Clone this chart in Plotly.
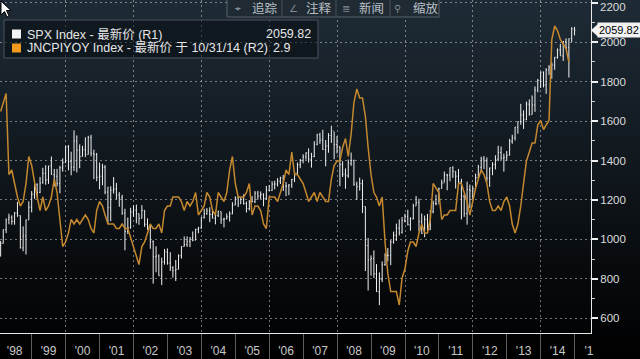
import base64
import struct
import zlib

import pandas as pd
import plotly.graph_objects as go

# ---------------- data ----------------
# SPX monthly bars Jan-1998 .. Dec-2014 (last value as of 9 Dec 2014)
spx_open = [
    970.43, 980.28, 1049.34, 1101.75, 1111.75, 1090.82, 1133.84, 1120.67, 957.28, 1017.01, 1098.67, 1163.63,
    1229.23, 1279.64, 1238.33, 1286.37, 1335.18, 1301.84, 1372.71, 1328.72, 1320.41, 1282.71, 1362.93, 1388.91,
    1469.25, 1394.46, 1366.42, 1498.58, 1452.43, 1420.60, 1454.60, 1430.83, 1517.68, 1436.51, 1429.40, 1314.95,
    1320.28, 1366.01, 1239.94, 1160.33, 1249.46, 1255.82, 1224.42, 1211.23, 1133.58, 1040.94, 1059.78, 1139.45,
    1148.08, 1130.20, 1106.73, 1147.39, 1076.92, 1067.14, 989.82, 911.62, 916.07, 815.28, 885.76, 936.31,
    879.82, 855.70, 841.15, 848.18, 916.92, 963.59, 974.50, 990.31, 1008.01, 995.97, 1050.71, 1058.20,
    1111.92, 1131.13, 1144.94, 1126.21, 1107.30, 1120.68, 1140.84, 1101.72, 1104.24, 1114.58, 1130.20, 1173.82,
    1211.92, 1181.27, 1203.60, 1180.59, 1156.85, 1191.50, 1191.33, 1234.18, 1220.33, 1228.81, 1207.01, 1249.48,
    1248.29, 1280.08, 1280.66, 1294.83, 1310.61, 1270.09, 1270.20, 1276.66, 1303.82, 1335.85, 1377.94, 1400.63,
    1418.30, 1438.24, 1406.82, 1420.86, 1482.37, 1530.62, 1503.35, 1455.27, 1473.99, 1526.75, 1549.38, 1481.14,
    1468.36, 1378.55, 1330.63, 1322.70, 1385.59, 1400.38, 1280.00, 1267.38, 1282.83, 1166.36, 968.75, 896.24,
    903.25, 825.88, 735.09, 797.87, 872.81, 919.14, 919.32, 987.48, 1020.62, 1057.08, 1036.19, 1095.63,
    1115.10, 1073.87, 1104.49, 1169.43, 1186.69, 1089.41, 1030.71, 1101.60, 1049.33, 1141.20, 1183.26, 1180.55,
    1257.64, 1286.12, 1327.22, 1325.83, 1363.61, 1345.20, 1320.64, 1292.28, 1218.89, 1131.42, 1253.30, 1246.96,
    1257.60, 1312.41, 1365.68, 1408.47, 1397.91, 1310.33, 1362.16, 1379.32, 1406.58, 1440.67, 1412.16, 1416.18,
    1426.19, 1498.11, 1514.68, 1569.19, 1597.57, 1630.74, 1606.28, 1685.73, 1632.97, 1681.55, 1756.54, 1805.81,
    1848.36, 1782.59, 1859.45, 1872.34, 1883.95, 1923.57, 1960.23, 1930.67, 2003.37, 1972.29, 2018.21, 2065.78,
]
spx_high = [
    992.65, 1050.66, 1105.65, 1130.52, 1122.0, 1138.5, 1190.58, 1121.5, 1066.1, 1100.6, 1192.97, 1244.93,
    1280.4, 1283.8, 1316.6, 1362.8, 1375.98, 1372.9, 1420.3, 1357.3, 1357.7, 1373.2, 1410.0, 1473.1,
    1478.0, 1444.6, 1552.9, 1527.2, 1481.5, 1474.6, 1517.3, 1525.2, 1530.1, 1454.8, 1438.5, 1389.1,
    1383.4, 1376.9, 1267.4, 1269.3, 1315.9, 1286.6, 1239.8, 1226.3, 1155.4, 1110.6, 1160.3, 1173.6,
    1176.6, 1130.2, 1173.9, 1147.8, 1106.6, 1070.7, 994.5, 965.0, 924.0, 907.4, 951.6, 954.3,
    935.1, 864.6, 895.9, 924.2, 965.4, 1015.3, 1015.4, 1011.0, 1040.3, 1053.8, 1063.7, 1112.6,
    1155.4, 1159.0, 1163.2, 1150.6, 1127.7, 1146.3, 1140.8, 1109.7, 1131.5, 1142.1, 1188.5, 1217.9,
    1217.8, 1212.4, 1229.1, 1191.9, 1199.6, 1219.6, 1245.2, 1245.9, 1243.1, 1233.3, 1270.6, 1275.8,
    1294.9, 1297.6, 1310.9, 1318.2, 1326.7, 1290.7, 1280.4, 1307.1, 1340.3, 1389.4, 1407.9, 1431.8,
    1441.6, 1461.6, 1438.9, 1498.0, 1535.6, 1540.6, 1555.9, 1503.9, 1538.7, 1576.1, 1545.8, 1523.6,
    1471.8, 1396.0, 1359.7, 1404.6, 1440.2, 1404.1, 1292.2, 1313.2, 1303.0, 1167.0, 1007.5, 918.9,
    943.9, 875.0, 833.0, 888.7, 930.2, 956.2, 996.7, 1039.5, 1080.2, 1101.4, 1113.7, 1130.4,
    1150.5, 1112.4, 1180.7, 1219.8, 1206.6, 1131.2, 1121.0, 1129.2, 1148.9, 1196.1, 1227.1, 1262.6,
    1302.7, 1344.1, 1332.3, 1364.6, 1370.6, 1345.2, 1356.5, 1307.4, 1229.3, 1292.7, 1277.6, 1269.4,
    1333.5, 1378.0, 1419.2, 1422.4, 1415.3, 1363.5, 1391.7, 1426.7, 1474.5, 1471.0, 1434.3, 1448.0,
    1509.9, 1530.9, 1570.3, 1597.6, 1687.2, 1654.2, 1698.8, 1709.7, 1730.0, 1775.2, 1813.6, 1849.4,
    1850.8, 1867.9, 1884.0, 1897.3, 1924.0, 1968.2, 1991.4, 2005.0, 2019.3, 2018.2, 2075.8, 2077.3,
]
spx_low = [
    912.8, 979.0, 1032.0, 1076.7, 1074.4, 1074.7, 1114.3, 954.0, 939.98, 923.3, 1098.7, 1136.9,
    1205.5, 1211.9, 1234.6, 1282.8, 1277.3, 1281.4, 1328.5, 1268.7, 1268.4, 1233.7, 1343.6, 1387.4,
    1350.1, 1325.1, 1346.6, 1339.4, 1361.1, 1420.6, 1416.9, 1430.8, 1421.1, 1305.8, 1294.9, 1254.1,
    1274.6, 1228.9, 1081.2, 1092.0, 1232.0, 1203.0, 1165.5, 1124.9, 944.8, 1026.8, 1054.3, 1114.5,
    1081.7, 1074.4, 1106.7, 1063.5, 1049.0, 952.9, 775.7, 833.4, 815.3, 768.6, 872.0, 871.8,
    840.3, 806.3, 788.9, 847.9, 902.8, 963.6, 962.1, 960.8, 990.4, 996.0, 1031.2, 1053.4,
    1105.1, 1124.4, 1087.2, 1107.2, 1076.3, 1113.3, 1078.8, 1060.7, 1101.3, 1090.2, 1127.6, 1173.4,
    1163.8, 1180.5, 1176.9, 1136.2, 1146.2, 1188.3, 1183.6, 1201.1, 1205.4, 1168.2, 1201.1, 1246.6,
    1245.7, 1253.6, 1268.4, 1280.7, 1245.3, 1219.3, 1224.5, 1261.3, 1290.9, 1327.1, 1361.0, 1385.9,
    1404.0, 1389.4, 1364.0, 1416.4, 1476.7, 1484.2, 1454.3, 1370.6, 1439.3, 1489.6, 1406.1, 1435.7,
    1270.1, 1316.8, 1257.0, 1312.3, 1373.1, 1272.0, 1200.4, 1247.5, 1133.5, 839.8, 741.0, 815.7,
    804.5, 734.5, 666.8, 783.3, 866.1, 888.9, 869.3, 978.5, 992.3, 1020.0, 1029.4, 1085.9,
    1071.6, 1044.5, 1101.4, 1170.7, 1040.8, 1028.3, 1010.9, 1039.7, 1048.2, 1131.9, 1173.0, 1186.6,
    1257.6, 1289.1, 1249.1, 1294.7, 1311.8, 1258.1, 1282.9, 1101.5, 1114.2, 1074.8, 1158.7, 1202.4,
    1258.9, 1312.4, 1340.0, 1357.4, 1292.0, 1266.7, 1325.4, 1354.7, 1396.6, 1403.3, 1343.4, 1398.1,
    1426.2, 1485.0, 1501.5, 1536.0, 1581.3, 1560.3, 1604.6, 1627.5, 1633.4, 1646.5, 1746.2, 1768.0,
    1770.5, 1737.9, 1834.4, 1814.4, 1859.8, 1916.0, 1930.7, 1904.8, 1964.0, 1820.7, 2001.0, 2034.2,
]
spx_close = [
    980.28, 1049.34, 1101.75, 1111.75, 1090.82, 1133.84, 1120.67, 957.28, 1017.01, 1098.67, 1163.63, 1229.23,
    1279.64, 1238.33, 1286.37, 1335.18, 1301.84, 1372.71, 1328.72, 1320.41, 1282.71, 1362.93, 1388.91, 1469.25,
    1394.46, 1366.42, 1498.58, 1452.43, 1420.60, 1454.60, 1430.83, 1517.68, 1436.51, 1429.40, 1314.95, 1320.28,
    1366.01, 1239.94, 1160.33, 1249.46, 1255.82, 1224.42, 1211.23, 1133.58, 1040.94, 1059.78, 1139.45, 1148.08,
    1130.20, 1106.73, 1147.39, 1076.92, 1067.14, 989.82, 911.62, 916.07, 815.28, 885.76, 936.31, 879.82,
    855.70, 841.15, 848.18, 916.92, 963.59, 974.50, 990.31, 1008.01, 995.97, 1050.71, 1058.20, 1111.92,
    1131.13, 1144.94, 1126.21, 1107.30, 1120.68, 1140.84, 1101.72, 1104.24, 1114.58, 1130.20, 1173.82, 1211.92,
    1181.27, 1203.60, 1180.59, 1156.85, 1191.50, 1191.33, 1234.18, 1220.33, 1228.81, 1207.01, 1249.48, 1248.29,
    1280.08, 1280.66, 1294.83, 1310.61, 1270.09, 1270.20, 1276.66, 1303.82, 1335.85, 1377.94, 1400.63, 1418.30,
    1438.24, 1406.82, 1420.86, 1482.37, 1530.62, 1503.35, 1455.27, 1473.99, 1526.75, 1549.38, 1481.14, 1468.36,
    1378.55, 1330.63, 1322.70, 1385.59, 1400.38, 1280.00, 1267.38, 1282.83, 1166.36, 968.75, 896.24, 903.25,
    825.88, 735.09, 797.87, 872.81, 919.14, 919.32, 987.48, 1020.62, 1057.08, 1036.19, 1095.63, 1115.10,
    1073.87, 1104.49, 1169.43, 1186.69, 1089.41, 1030.71, 1101.60, 1049.33, 1141.20, 1183.26, 1180.55, 1257.64,
    1286.12, 1327.22, 1325.83, 1363.61, 1345.20, 1320.64, 1292.28, 1218.89, 1131.42, 1253.30, 1246.96, 1257.60,
    1312.41, 1365.68, 1408.47, 1397.91, 1310.33, 1362.16, 1379.32, 1406.58, 1440.67, 1412.16, 1416.18, 1426.19,
    1498.11, 1514.68, 1569.19, 1597.57, 1630.74, 1606.28, 1685.73, 1632.97, 1681.55, 1756.54, 1805.81, 1848.36,
    1782.59, 1859.45, 1872.34, 1883.95, 1923.57, 1960.23, 1930.67, 2003.37, 1972.29, 2018.05, 2067.56, 2059.82,
]

# Japan CPI YoY (%), Jan-1998 .. Oct-2014
jn_cpi = [
    1.8, 2.0, 2.2, 0.4, 0.5, 0.2, -0.1, -0.3, -0.2, 0.2, 0.8, 0.6,
    0.2, -0.1, -0.4, -0.1, -0.4, -0.3, -0.1, 0.3, 0.0, -0.7, -1.2, -1.1,
    -0.9, -0.6, -0.7, -0.6, -0.7, -0.6, -0.5, -0.6, -0.8, -0.9, -0.4, -0.2,
    -0.3, -0.5, -0.7, -0.7, -0.7, -0.8, -0.8, -0.7, -0.8, -0.8, -1.0, -1.2,
    -1.4, -1.6, -1.2, -1.1, -0.9, -0.7, -0.8, -0.8, -0.7, -0.9, -0.4, -0.3,
    -0.3, -0.1, -0.1, -0.1, -0.2, -0.4, -0.2, -0.3, -0.2, 0.0, -0.5, -0.4,
    -0.3, 0.0, -0.1, -0.4, -0.5, 0.0, -0.1, -0.2, 0.0, 0.5, 0.8, 0.2,
    -0.1, -0.1, -0.1, 0.0, 0.2, -0.5, -0.3, -0.3, -0.4, -0.7, -0.8, -0.1,
    -0.1, -0.1, -0.2, 0.0, 0.2, 0.5, 0.4, 0.9, 0.4, 0.4, 0.3, 0.2,
    0.0, -0.2, -0.1, 0.0, -0.2, 0.0, -0.1, -0.2, -0.2, 0.3, 0.6, 0.7,
    0.7, 1.0, 1.2, 0.8, 1.3, 2.0, 2.3, 2.1, 2.1, 1.7, 1.0, 0.4,
    0.0, -0.1, -0.3, -0.1, -1.1, -1.8, -2.2, -2.2, -2.2, -2.5, -1.9, -1.7,
    -1.3, -1.1, -1.1, -1.2, -0.9, -0.7, -0.9, -0.9, -0.6, 0.2, 0.1, 0.0,
    -0.6, -0.5, -0.5, -0.4, -0.4, -0.4, 0.2, 0.2, 0.0, -0.2, -0.5, -0.2,
    0.1, 0.3, 0.5, 0.4, 0.2, -0.2, -0.4, -0.4, -0.3, -0.4, -0.2, -0.1,
    -0.3, -0.7, -0.9, -0.7, -0.3, 0.2, 0.7, 0.9, 1.1, 1.1, 1.5, 1.6,
    1.4, 1.5, 1.6, 3.4, 3.7, 3.6, 3.4, 3.3, 3.2, 2.9,
]

spx_dates = pd.date_range("1998-01-31", periods=len(spx_close), freq=pd.offsets.MonthEnd())
cpi_dates = spx_dates[: len(jn_cpi)]

year_label_dates = [f"{y}-07-01" for y in range(1998, 2015)] + ["2015-06-05"]
year_labels = ["'98", "'99", "'00", "'01", "'02", "'03", "'04", "'05", "'06", "'07",
               "'08", "'09", "'10", "'11", "'12", "'13", "'14", "'1"]
year_sep_dates = [f"{y}-01-01" for y in range(1999, 2016)]

spx_name = "SPX Index - 最新价 (R1)"
cpi_name = "JNCPIYOY Index - 最新价 于 10/31/14 (R2)"
spx_last = "2059.82"
cpi_last = "2.9"
spx_top_tick = 2200
toolbar_items = ["追踪", "注释", "新闻", "缩放"]
toolbar_icons = ["⌖", "∠", "≣", "⚲"]

# ---------------- styling ----------------
W, H = 640, 359
PL, PR, PT, PB = 0, 49, 0, 26
PW, PH = W - PL - PR, H - PT - PB
X_RANGE = ["1998-01-24", "2015-06-26"]
SPX_RANGE = [525.5, 2213.7]
CPI_RANGE = [-3.122, 4.278]
GRID = "rgba(205,205,205,0.55)"
FONT = "Liberation Sans, Arial, Noto Sans CJK SC, sans-serif"
ORANGE = "#c4882e"
TICKFONT = dict(family=FONT, size=11.5, color="#dcdcdc")


def px(x):
    return (x - PL) / PW


def py(y):
    return (PT + PH - y) / PH


def gradient_png(w, h, top, bottom):
    rows = []
    for i in range(h):
        t = i / (h - 1)
        c = [int(round(top[k] * (1 - t) + bottom[k] * t)) for k in range(3)]
        rows.append(b"\x00" + bytes(c * w))

    def chunk(tag, data):
        return (struct.pack(">I", len(data)) + tag + data
                + struct.pack(">I", zlib.crc32(tag + data) & 0xFFFFFFFF))

    png = (b"\x89PNG\r\n\x1a\n"
           + chunk(b"IHDR", struct.pack(">IIBBBBB", w, h, 8, 2, 0, 0, 0))
           + chunk(b"IDAT", zlib.compress(b"".join(rows)))
           + chunk(b"IEND", b""))
    return "data:image/png;base64," + base64.b64encode(png).decode()


bg_uri = gradient_png(8, H, (30, 43, 54), (0, 0, 0))

fig = go.Figure()
# CPI line lives on the overlaid x2/y2 pair (x2 carries the year labels)
fig.add_trace(go.Scatter(
    x=cpi_dates, y=jn_cpi, mode="lines", xaxis="x2", yaxis="y2",
    line=dict(color=ORANGE, width=1.5), hoverinfo="skip", showlegend=False))
fig.add_trace(go.Ohlc(
    x=spx_dates, open=spx_open, high=spx_high, low=spx_low, close=spx_close,
    xaxis="x", yaxis="y",
    increasing=dict(line=dict(color="#f0f0f0", width=1)),
    decreasing=dict(line=dict(color="#f0f0f0", width=1)),
    tickwidth=0.3, hoverinfo="skip", showlegend=False))

shapes = []
annotations = []

# legend box
shapes.append(dict(type="rect", xref="paper", yref="paper",
                   x0=px(4), x1=px(318), y0=py(58), y1=py(20),
                   fillcolor="rgba(8,13,18,0.55)", line=dict(color="#4a5560", width=1)))
for row_y, sq_color, name in [(34, "#f4f4f4", spx_name), (48, "#f29b1f", cpi_name)]:
    shapes.append(dict(type="rect", xref="paper", yref="paper",
                       x0=px(12), x1=px(21), y0=py(row_y + 4.5), y1=py(row_y - 4.5),
                       fillcolor=sq_color, line=dict(width=0)))
    annotations.append(dict(xref="paper", yref="paper", x=px(25), y=py(row_y),
                            xanchor="left", yanchor="middle", showarrow=False, text=name,
                            font=dict(family=FONT, size=12.5, color="#e6e6e6")))
annotations.append(dict(xref="paper", yref="paper", x=px(313), y=py(34),
                        xanchor="right", yanchor="middle", showarrow=False, text=spx_last,
                        font=dict(family=FONT, size=12.5, color="#e6e6e6")))
annotations.append(dict(xref="paper", yref="paper", x=px(271), y=py(48),
                        xanchor="left", yanchor="middle", showarrow=False, text=cpi_last,
                        font=dict(family=FONT, size=12.5, color="#e6e6e6")))

# toolbar
shapes.append(dict(type="rect", xref="paper", yref="paper",
                   x0=px(227), x1=px(439), y0=py(17), y1=py(-2),
                   fillcolor="#1f2a33", line=dict(color="#56616b", width=1)))
for sep in (282, 336, 390):
    shapes.append(dict(type="line", xref="paper", yref="paper",
                       x0=px(sep), x1=px(sep), y0=py(17), y1=py(0),
                       line=dict(color="#46515b", width=1)))
for icon_x, text_x, icon, label in zip((238, 293, 346, 398), (250, 304, 357, 411),
                                       toolbar_icons, toolbar_items):
    annotations.append(dict(xref="paper", yref="paper", x=px(icon_x), y=py(8.5),
                            xanchor="center", yanchor="middle", showarrow=False, text=icon,
                            font=dict(family="DejaVu Sans", size=10, color="#838c94")))
    annotations.append(dict(xref="paper", yref="paper", x=px(text_x), y=py(8.5),
                            xanchor="left", yanchor="middle", showarrow=False, text=label,
                            font=dict(family=FONT, size=12.5, color="#b9c0c6")))

# top tick label kept inside the window (as in the reference)
annotations.append(dict(xref="paper", yref="y", x=px(598), y=spx_top_tick, yshift=-4,
                        xanchor="left", yanchor="middle", showarrow=False,
                        text=str(spx_top_tick), font=TICKFONT))

# last-price tag on the right axis
last_val = spx_close[-1]
shapes.append(dict(type="path", xref="paper", yref="y",
                   path=f"M {px(591)},{last_val} L {px(598)},{last_val + 32} "
                        f"L {px(598)},{last_val - 32} Z",
                   fillcolor="#f2f2f2", line=dict(width=0)))
annotations.append(dict(xref="paper", yref="y", x=px(597), y=last_val,
                        xanchor="left", yanchor="middle", showarrow=False, text=spx_last,
                        bgcolor="#f2f2f2", borderpad=1,
                        font=dict(family=FONT, size=11, color="#000000")))

# mouse pointer from the screenshot
shapes.append(dict(type="path", xref="paper", yref="paper",
                   path=f"M {px(1)},{py(1)} L {px(1)},{py(15)} L {px(4.5)},{py(11.5)} "
                        f"L {px(7)},{py(17)} L {px(9)},{py(16)} L {px(6.5)},{py(10.5)} "
                        f"L {px(11)},{py(10.5)} Z",
                   fillcolor="#ffffff", line=dict(color="#000000", width=1)))

fig.update_layout(
    width=W, height=H, autosize=False,
    margin=dict(l=PL, r=PR, t=PT, b=PB, pad=0),
    paper_bgcolor="#000000", plot_bgcolor="rgba(0,0,0,0)",
    showlegend=False, hovermode=False,
    font=dict(family=FONT, color="#d8d8d8"),
    images=[dict(source=bg_uri, xref="paper", yref="paper", x=0, y=1,
                 sizex=W / PW, sizey=H / PH, xanchor="left", yanchor="top",
                 sizing="stretch", layer="below")],
    xaxis=dict(type="date", range=X_RANGE, tickmode="linear", tick0="2000-01-01",
               dtick="M24", showticklabels=False, ticks="", showgrid=True,
               gridcolor=GRID, griddash="2px,3px", gridwidth=1,
               showline=True, linecolor="#e8e8e8", linewidth=1, zeroline=False,
               rangeslider=dict(visible=False), fixedrange=True),
    xaxis2=dict(type="date", overlaying="x", anchor="y", side="bottom", range=X_RANGE,
                tickmode="array", tickvals=year_label_dates, ticktext=year_labels,
                ticks="", showgrid=False, showline=False, zeroline=False,
                tickfont=dict(family=FONT, size=12, color="#c8c8c8"),
                ticklabelstandoff=9, fixedrange=True,
                minor=dict(tickmode="array", tickvals=year_sep_dates, ticks="outside",
                           ticklen=26, tickwidth=1, tickcolor="#5c5c5c", showgrid=False)),
    yaxis=dict(side="right", range=SPX_RANGE, tickmode="linear", tick0=600, dtick=200,
               ticks="outside", ticklen=6, tickwidth=2, tickcolor="#f0f0f0",
               minor=dict(dtick=100, tick0=600, ticks="outside", ticklen=3, tickwidth=1,
                          tickcolor="#cfcfcf", showgrid=False),
               showgrid=True, gridcolor=GRID, griddash="2px,3px", gridwidth=1,
               showline=True, linecolor="#e8e8e8", linewidth=1, zeroline=False,
               tickfont=TICKFONT, fixedrange=True),
    yaxis2=dict(overlaying="y", anchor="x2", side="left", range=CPI_RANGE, visible=False,
                fixedrange=True),
    shapes=shapes,
    annotations=annotations,
)

fig.write_html(
    "out.html",
    config={"displayModeBar": False, "staticPlot": True},
    post_script="document.body.style.margin='0';document.body.style.overflow='hidden';",
)
